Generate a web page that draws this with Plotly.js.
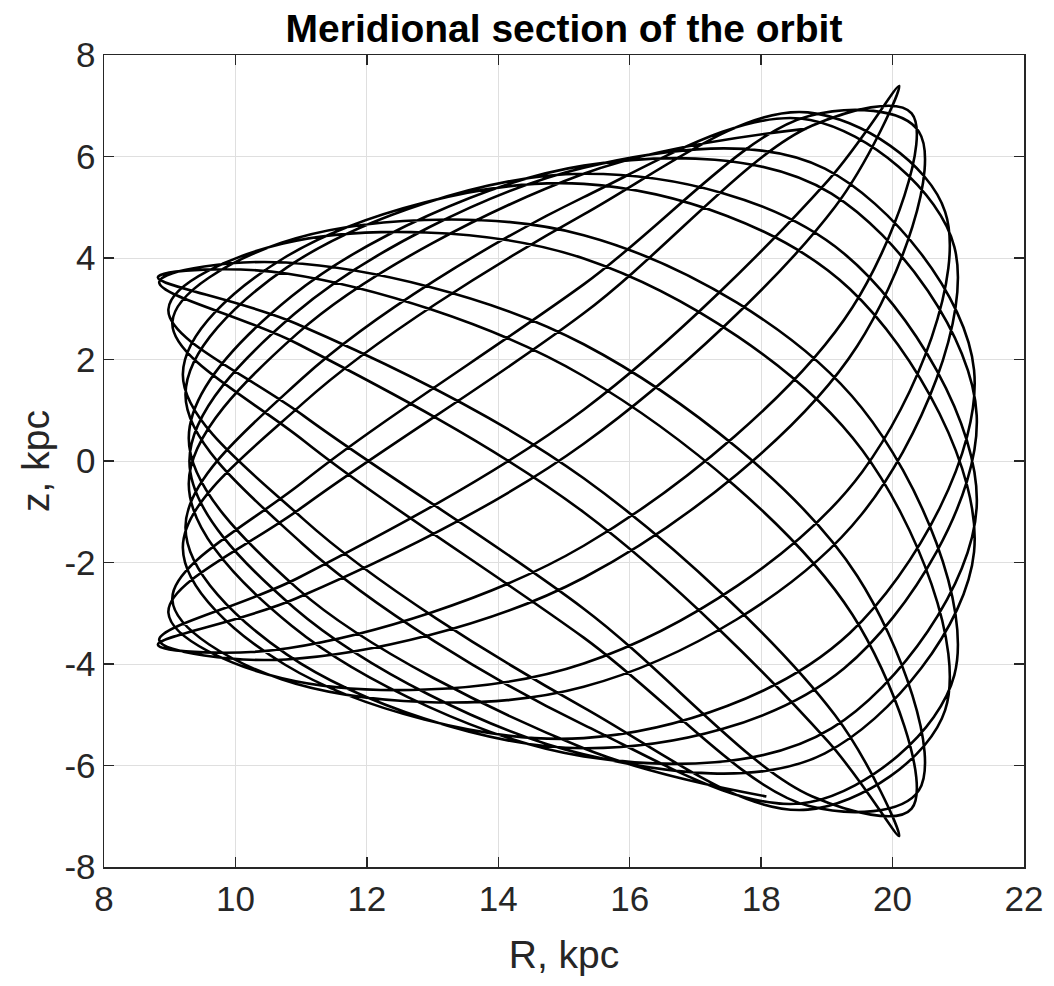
<!DOCTYPE html>
<html>
<head>
<meta charset="utf-8">
<script src="https://cdn.plot.ly/plotly-3.0.1.min.js"></script>
<style>html,body{margin:0;padding:0;background:#fff;}#chart{width:1054px;height:986px;}</style>
</head>
<body>
<div id="chart"></div>
<script>
// Orbit points (R in kpc, z in kpc), in time order
const orbitR = [
18.70,15.30,10.94,9.29,10.86,15.30,19.07,21.28,19.26,15.30,
10.78,9.24,11.01,15.30,18.75,20.94,19.53,15.30,10.70,9.04,
11.05,15.30,18.73,20.40,19.46,15.30,10.77,8.84,10.96,15.30,
19.02,20.10,19.12,15.30,10.92,8.82,10.80,15.30,19.39,20.29,
18.78,15.30,11.04,8.98,10.71,15.30,19.54,20.80,18.71,15.30,
11.03,9.20,10.75,15.30,19.35,21.24,18.97,15.30,10.90,9.30,
10.90,15.30,18.97,21.24,19.35,15.30,10.75,9.20,11.03,15.30,
18.71,20.80,19.54,15.30,10.71,8.98,11.04,15.30,18.78,20.29,
19.39,15.30,10.80,8.82,10.92,15.30,19.12,20.10,19.02,15.30,
10.96,8.84,10.77,15.30,19.46,20.40,18.73,15.30,11.05,9.04,
10.70,15.30,19.53,20.94,18.75,15.30,11.01,9.24,10.78,15.30,
19.26,21.28,19.07,15.30,10.86,9.29,10.94,15.30,18.08
];
const orbitZ = [
6.55,5.66,2.51,-0.45,-3.25,-5.82,-5.27,-0.90,4.09,5.66,
3.81,1.31,-1.62,-5.20,-6.72,-4.22,1.05,4.45,4.30,2.73,
0.39,-3.48,-6.80,-6.49,-2.26,2.30,3.91,3.53,2.30,-1.01,
-5.53,-7.39,-5.00,-0.34,2.71,3.62,3.69,1.67,-3.03,-6.85,
-6.61,-2.91,0.89,2.99,4.28,3.99,0.21,-4.91,-6.87,-4.86,
-1.14,1.71,4.01,5.46,3.39,-1.79,-5.76,-5.78,-2.90,0.00,
2.90,5.78,5.76,1.79,-3.39,-5.46,-4.01,-1.71,1.14,4.86,
6.87,4.91,-0.21,-3.99,-4.28,-2.99,-0.89,2.91,6.61,6.85,
3.03,-1.67,-3.69,-3.62,-2.71,0.34,5.00,7.39,5.53,1.01,
-2.30,-3.53,-3.91,-2.30,2.26,6.49,6.80,3.48,-0.39,-2.73,
-4.30,-4.45,-1.05,4.22,6.72,5.20,1.62,-1.31,-3.81,-5.66,
-4.09,0.90,5.27,5.82,3.25,0.45,-2.51,-5.66,-6.61
];
const xTicks = [8,10,12,14,16,18,20,22];
const yTicks = [-8,-6,-4,-2,0,2,4,6,8];

const axisColor = '#262626';
const fontFamily = '"Liberation Sans", Arial, Helvetica, sans-serif';

const trace = {
  x: orbitR, y: orbitZ, type: 'scatter', mode: 'lines',
  line: {color: '#000000', width: 2.6, shape: 'spline', smoothing: 1},
  hoverinfo: 'skip', showlegend: false
};

const baseAxis = {
  ticks: 'inside', ticklen: 10, tickwidth: 1.3, tickcolor: axisColor,
  showline: true, linecolor: axisColor, linewidth: 1.5, mirror: 'ticks',
  showgrid: true, gridcolor: '#dfdfdf', gridwidth: 1, zeroline: false,
  tickfont: {family: fontFamily, size: 35, color: axisColor},
  tickmode: 'array', automargin: false, fixedrange: true
};

const layout = {
  width: 1054, height: 986,
  margin: {l: 104, r: 30, t: 55, b: 119, pad: 0},
  paper_bgcolor: '#ffffff', plot_bgcolor: '#ffffff',
  font: {family: fontFamily, color: axisColor},
  title: {
    text: '<b>Meridional section of the orbit</b>',
    font: {family: fontFamily, size: 39, color: '#000000'},
    x: 0.5, xref: 'paper', xanchor: 'center',
    y: 1 - 28 / 986, yref: 'container', yanchor: 'middle'
  },
  xaxis: Object.assign({}, baseAxis, {
    range: [8, 22], tickvals: xTicks, ticktext: xTicks.map(String),
    title: {text: 'R, kpc', font: {family: fontFamily, size: 39, color: axisColor}, standoff: 24}
  }),
  yaxis: Object.assign({}, baseAxis, {
    range: [-8, 8], tickvals: yTicks, ticktext: yTicks.map(String),
    title: {text: 'z, kpc', font: {family: fontFamily, size: 39, color: axisColor}, standoff: 2}
  })
};

Plotly.newPlot('chart', [trace], layout, {displayModeBar: false, staticPlot: true});
</script>
</body>
</html>
